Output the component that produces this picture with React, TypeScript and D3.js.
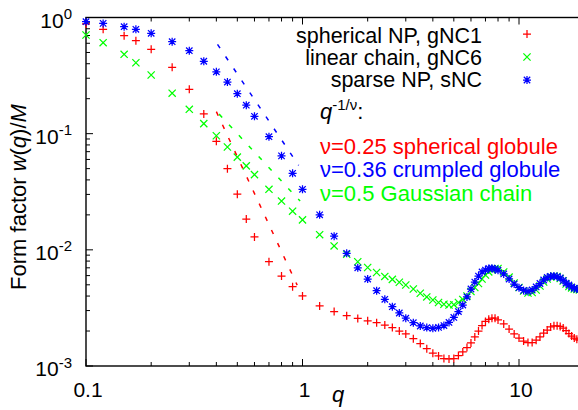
import React from "react";
import * as d3 from "d3";

// ---- data ----
const qSphere = [0.1,0.12,0.15,0.17,0.2,0.25,0.3,0.35,0.4,0.45,0.5,0.55,0.6,0.7,0.8,0.9,1.0,1.2,1.4,1.6,1.8,2.0,2.2,2.4,2.6,2.8,3.0,3.25,3.5,3.75,4.0,4.25,4.5,4.75,5.0,5.25,5.5,5.75,6.0,6.25,6.5,6.75,7.0,7.25,7.5,7.75,8.0,8.5,9.0,9.5,10,10.5,11,11.5,12,12.5,13,13.5,14,14.5,15,15.5,16,16.5,17,17.5,18,18.5,19];
const wSphere = [0.88,0.791,0.697,0.631,0.532,0.373,0.241,0.148,0.086,0.05,0.0301,0.0184,0.0129,0.0079,0.00595,0.00482,0.00401,0.00329,0.00294,0.00271,0.00257,0.00245,0.00236,0.00225,0.00214,0.002,0.00189,0.00172,0.00156,0.00141,0.00129,0.00122,0.00116,0.00115,0.00116,0.00123,0.00132,0.00144,0.00158,0.00178,0.002,0.00223,0.00242,0.00252,0.00258,0.00258,0.00249,0.0023,0.00208,0.00189,0.00174,0.00164,0.00159,0.00159,0.00167,0.00178,0.00192,0.00204,0.00217,0.00222,0.00222,0.00219,0.00212,0.00202,0.0019,0.00181,0.00174,0.0017,0.00167];

const qChain = qSphere;
const wChain = [0.707,0.607,0.482,0.408,0.32,0.223,0.162,0.122,0.096,0.0768,0.0628,0.0528,0.0444,0.0332,0.0263,0.0215,0.0181,0.0135,0.0108,0.00916,0.0079,0.00705,0.00638,0.0059,0.00557,0.00526,0.00498,0.0046,0.00423,0.00393,0.0037,0.00352,0.0034,0.00335,0.00337,0.00352,0.00374,0.00401,0.00438,0.00474,0.00513,0.00561,0.00607,0.00645,0.0067,0.00691,0.00691,0.00645,0.00583,0.00518,0.00474,0.00442,0.00425,0.00429,0.00451,0.00488,0.00528,0.00561,0.00583,0.00595,0.00589,0.00567,0.00539,0.00508,0.00483,0.0047,0.0046,0.00455,0.00452];

const qSparse = qSphere;
const wSparse = [0.92,0.89,0.834,0.791,0.731,0.619,0.518,0.42,0.341,0.278,0.221,0.176,0.141,0.0942,0.0644,0.0456,0.0332,0.02,0.0131,0.00934,0.007,0.0056,0.00445,0.00375,0.00324,0.00286,0.00258,0.00236,0.00221,0.00214,0.00211,0.00215,0.00223,0.00237,0.00262,0.00294,0.00335,0.00393,0.0046,0.00528,0.00595,0.00645,0.0067,0.00691,0.00694,0.00684,0.00667,0.0062,0.00561,0.00508,0.00472,0.00447,0.00438,0.00451,0.00479,0.00513,0.0055,0.00578,0.00592,0.00595,0.00589,0.00573,0.00545,0.00518,0.00498,0.00479,0.00467,0.0046,0.00456];

const seriesNames = ["spherical NP, gNC1", "linear chain, gNC6", "sparse NP, sNC"];
const seriesColors = ["#ff0000", "#00ff00", "#0000ff"];
const seriesMarkers = ["plus", "cross", "star"];

// power-law guides q^{-1/nu}
const fitNu = [0.25, 0.36, 0.5];
const fitCoef = [0.00396, 0.0476, 0.025];
const fitQStart = [0.4, 0.405, 0.412];
const fitQEnd = [0.945, 0.96, 0.975];
const fitLabels = ["ν=0.25 spherical globule", "ν=0.36 crumpled globule", "ν=0.5 Gaussian chain"];
const fitColors = ["#ff0000", "#0000ff", "#00ff00"];

const xTickValues = [0.1, 1, 10];
const xTickLabels = ["0.1", "1", "10"];
const yTickValues = [1e-3, 1e-2, 1e-1, 1];
const yTickExp = ["-3", "-2", "-1", "0"];

const FONT = "'Liberation Sans', Arial, Helvetica, sans-serif";

const markerPath: Record<string, string> = {
  plus: "M-4,0H4M0,-4V4",
  cross: "M-3.6,-3.6L3.6,3.6M-3.6,3.6L3.6,-3.6",
  star: "M-4,0H4M0,-4V4M-3.2,-3.2L3.2,3.2M-3.2,3.2L3.2,-3.2",
};

export default function App() {
  const W = 578, H = 410;
  const left = 86, top = 17.5, bottom = 366;
  const decadeX = 216.5;
  const x = d3.scaleLog().domain([0.1, 20]).range([left, left + decadeX * Math.log10(200)]);
  const y = d3.scaleLog().domain([1e-3, 1]).range([bottom, top]);
  const right = x(20);

  const series = [
    { q: qSphere, w: wSphere },
    { q: qChain, w: wChain },
    { q: qSparse, w: wSparse },
  ];

  const minorX: number[] = [];
  for (const dec of [0.1, 1, 10]) for (let k = 2; k <= 9; k++) if (dec * k <= 20) minorX.push(dec * k);
  const minorY: number[] = [];
  for (const dec of [1e-3, 1e-2, 1e-1]) for (let k = 2; k <= 9; k++) minorY.push(dec * k);

  const line = d3.line<[number, number]>().x((d) => x(d[0])).y((d) => y(d[1]));

  return (
    <svg width={W} height={H} style={{ position: "absolute", left: 0, top: 0 }} fontFamily={FONT}>
      <rect x={0} y={0} width={W} height={H} fill="#fff" />
      {/* ticks */}
      <g stroke="#000" strokeWidth={1}>
        {xTickValues.map((v, i) => (
          <g key={"xt" + i}>
            <line x1={x(v)} x2={x(v)} y1={bottom} y2={bottom - 7} />
            <line x1={x(v)} x2={x(v)} y1={top} y2={top + 7} />
          </g>
        ))}
        {minorX.map((v, i) => (
          <g key={"xm" + i}>
            <line x1={x(v)} x2={x(v)} y1={bottom} y2={bottom - 4} />
            <line x1={x(v)} x2={x(v)} y1={top} y2={top + 4} />
          </g>
        ))}
        {yTickValues.map((v, i) => (
          <line key={"yt" + i} x1={left} x2={left + 7} y1={y(v)} y2={y(v)} />
        ))}
        {minorY.map((v, i) => (
          <line key={"ym" + i} x1={left} x2={left + 4} y1={y(v)} y2={y(v)} />
        ))}
      </g>
      {/* frame */}
      <rect x={left} y={top} width={right - left} height={bottom - top} fill="none" stroke="#000" strokeWidth={1.4} />

      {/* tick labels */}
      {xTickValues.map((v, i) => (
        <text key={"xl" + i} x={x(v) + 2} y={397} textAnchor="middle" fontSize={21}>{xTickLabels[i]}</text>
      ))}
      {yTickValues.map((v, i) => (
        <text key={"yl" + i} x={72} y={y(v) + 10} textAnchor="end" fontSize={21}>
          10<tspan dy={-8.5} fontSize={15}>{yTickExp[i]}</tspan>
        </text>
      ))}

      {/* axis labels */}
      <text transform={`translate(26,197) rotate(-90)`} textAnchor="middle" fontSize={22}>
        Form factor <tspan fontStyle="italic">w</tspan>(<tspan fontStyle="italic">q</tspan>)/<tspan fontStyle="italic">M</tspan>
      </text>
      <text x={338} y={402} textAnchor="middle" fontSize={22} fontStyle="italic">q</text>

      {/* data */}
      <g>
        {series.map((s, si) => (
          <g key={"s" + si} stroke={seriesColors[si]} strokeWidth={1.25} fill="none">
            {s.q.map((q, i) => (
              <path key={i} d={markerPath[seriesMarkers[si]]} transform={`translate(${x(q)},${y(s.w[i])})`} />
            ))}
          </g>
        ))}
      </g>

      {/* power-law guides */}
      {fitNu.map((nu, i) => {
        const pts: [number, number][] = [fitQStart[i], fitQEnd[i]].map((q) => [q, fitCoef[i] * Math.pow(q, -1 / nu)]);
        return (
          <path key={"f" + i} d={line(pts) || ""} stroke={fitColors[i]} strokeWidth={1.5} strokeDasharray="4.5,10" fill="none" />
        );
      })}

      {/* legend */}
      {seriesNames.map((name, i) => (
        <g key={"lg" + i}>
          <text x={482} y={43 + i * 22} textAnchor="end" fontSize={21.5}>{name}</text>
          <path d={markerPath[seriesMarkers[i]]} transform={`translate(527,${34 + i * 23})`} stroke={seriesColors[i]} strokeWidth={1.25} fill="none" />
        </g>
      ))}

      <text x={320} y={119} fontSize={22}>
        <tspan fontStyle="italic">q</tspan>
        <tspan dy={-9} fontSize={15}>-1/ν</tspan>
        <tspan dy={9}>:</tspan>
      </text>
      {fitLabels.map((t, i) => (
        <text key={"fl" + i} x={320} y={153.5 + i * 23.5} fontSize={22} fill={fitColors[i]}>{t}</text>
      ))}
    </svg>
  );
}
